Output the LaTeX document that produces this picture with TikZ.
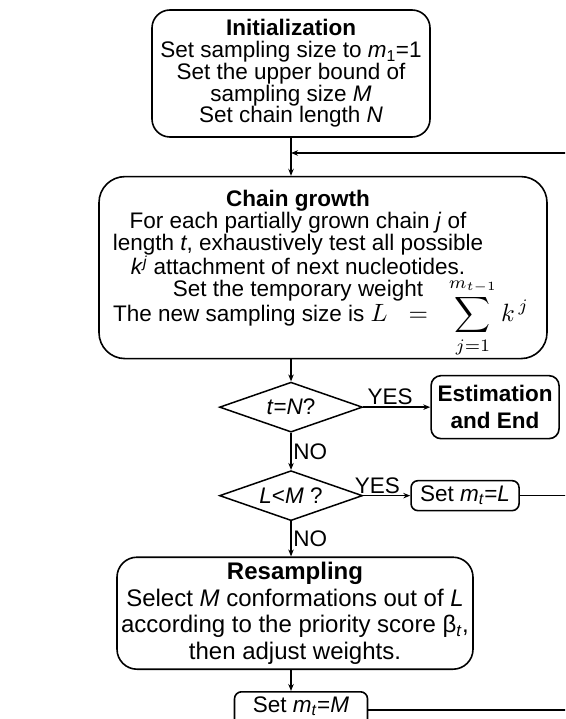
\documentclass[tikz,border=0pt]{standalone}
\usepackage{fontspec}
\setmainfont{Liberation Sans}
\usetikzlibrary{shapes.geometric,arrows.meta,positioning}

\tikzset{
  box/.style={rectangle, draw, line width=1.6pt, inner sep=0pt, align=center},
  cond/.style={diamond, draw, line width=1.5pt, inner sep=0pt, aspect=2.86, minimum width=143pt, minimum height=50pt},
  lbl/.style={inner sep=1.5pt},
}

\begin{document}
\begin{tikzpicture}[x=1pt, y=-1pt, line width=1.6pt, >={Stealth[length=7pt,width=5.5pt]}, font=\fontsize{22.5}{21.7}\selectfont]
  \useasboundingbox (0,0) rectangle (565,719);
  \clip (0,0) rectangle (565,719);

  \node[box, rounded corners=18pt, minimum width=278pt, minimum height=127pt] (init) at (291,73.5) {\textbf{Initialization}\\Set sampling size to \textit{m}\textsubscript{1}=1\\Set the upper bound of\\sampling size \textit{M}\\Set chain length \textit{N}};
  \node[box, rounded corners=26pt, minimum width=448pt, minimum height=182pt, below=38pt of init, xshift=32pt] (chain) {};
  \node[anchor=north, inner sep=0pt, align=center, font=\fontsize{22.5}{22}\selectfont] (chaintxt) at (298,189) {\textbf{Chain growth}\\For each partially grown chain \textit{j} of\\length \textit{t}, exhaustively test all possible\\\textit{k}\textsuperscript{\textit{j}} attachment of next nucleotides.\\Set the temporary weight\\[3pt]\makebox[0pt]{\hspace*{46pt}\smash{The new sampling size is {\fontsize{10}{12}\selectfont\scalebox{2.5}{$\displaystyle L\;\;=\;\;\sum_{j=1}^{m_{t-1}}k^{\,j}$}}}}};
  \node[cond, below=22pt of chain, xshift=-32pt] (tneq) {\textit{t}=\textit{N}?};
  \node[box, rounded corners=10pt, minimum width=128pt, minimum height=63pt, font=\fontsize{22.5}{27}\selectfont\bfseries, right=67pt of tneq] (est) {Estimation\\and End};
  \node[cond, below=37pt of tneq] (lmq) {\textit{L}<\textit{M} ?};
  \node[box, rounded corners=7pt, minimum width=108pt, minimum height=30pt, right=47pt of lmq] (setL) {Set \textit{m}\textsubscript{\textit{t}}=\textit{L}};
  \node[box, rounded corners=20pt, minimum width=356pt, minimum height=112pt, font=\fontsize{24}{26.5}\selectfont, below=35pt of lmq, xshift=4pt] (resamp) {\textbf{Resampling}\\Select \textit{M} conformations out of \textit{L}\\according to the priority score β\textsubscript{\textit{t}},\\then adjust weights.};
  \node[box, rounded corners=7pt, minimum width=133pt, minimum height=36pt, text depth=11pt, below=21pt of resamp, xshift=6pt] (setM) {Set \textit{m}\textsubscript{\textit{t}}=\textit{M}};
  \coordinate (back) at (572,153);

  \draw[->] (init.south) -- (init.south |- chain.north);
  \draw[->] (chain.south -| tneq.north) -- (tneq.north);
  \draw[->] (tneq.east) -- node[lbl, above, pos=0.4] {YES} (est.west);
  \draw[->] (tneq.south) -- node[lbl, right] {NO} (lmq.north);
  \draw[->] (lmq.east) -- node[lbl, above, pos=0.3] {YES} (setL.west);
  \draw (setL.east) -- (setL.east -| back);
  \draw[->] (lmq.south) -- node[lbl, right] {NO} (lmq.south |- resamp.north);
  \draw[->] (lmq.south |- resamp.south) -- (lmq.south |- setM.north);
  \draw[->] (setM.east) -- (setM.east -| back) -- (back) -- (back -| init.south);
\end{tikzpicture}
\end{document}
